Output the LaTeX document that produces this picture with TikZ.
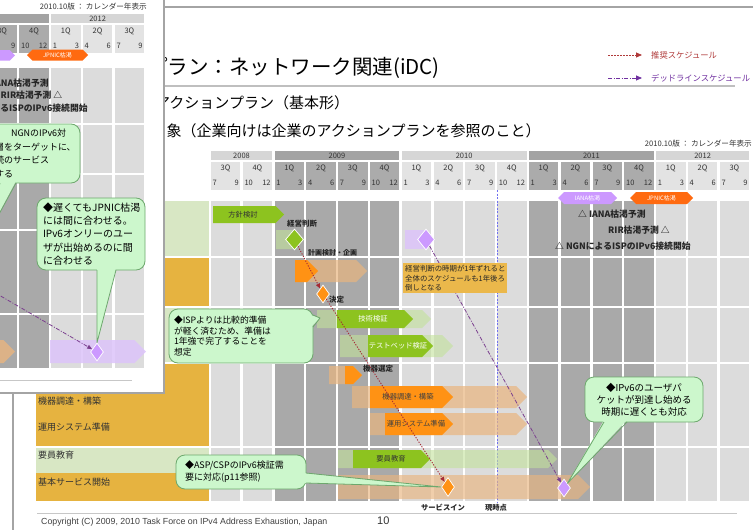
\documentclass[tikz,border=0pt]{standalone}
\usepackage{fontspec}
\setmainfont{Noto Sans CJK JP}
\newfontfamily\latsans{Liberation Sans}
\usetikzlibrary{arrows.meta,shapes.geometric,calc}

\definecolor{bodyD}{HTML}{A9A9A9}
\definecolor{bodyL}{HTML}{DCDCDC}
\definecolor{hqD}{HTML}{ABABAB}
\definecolor{hqL}{HTML}{E3E3E3}
\definecolor{hyD}{HTML}{A3A3A3}
\definecolor{hyL}{HTML}{D6D6D6}
\definecolor{goldc}{HTML}{E6B340}
\definecolor{lgreen}{HTML}{D8E7C4}
\definecolor{sgreen}{HTML}{8DC31F}
\definecolor{pgreen}{HTML}{C2E29A}
\definecolor{orng}{HTML}{FF9214}
\definecolor{ptan}{HTML}{E9B57F}
\definecolor{purp}{HTML}{CC99FF}
\definecolor{ppurp}{HTML}{DCC4FA}
\definecolor{jorng}{HTML}{FF6A10}
\definecolor{callfill}{HTML}{CCF7CC}
\definecolor{calldraw}{HTML}{6DA86D}
\definecolor{recred}{HTML}{A52A35}
\definecolor{dlpurp}{HTML}{7B3F8F}
\definecolor{nowblue}{HTML}{7070F0}
\definecolor{framec}{HTML}{A4A4A4}
\definecolor{txtc}{HTML}{333333}
\definecolor{notebox}{HTML}{EBB84B}
\definecolor{legred}{HTML}{B03A3A}
\definecolor{legpurp}{HTML}{7030A0}

\tikzset{
  hdrtxt/.style={font=\fontsize{7.5}{9}\selectfont, text=txtc, inner sep=0pt},
  smlbl/.style={font=\bfseries\fontsize{7.5}{9}\selectfont, text=black!85, inner sep=0pt},
  tri/.style={font=\bfseries\fontsize{8.8}{10}\selectfont, text=black!85, inner sep=0pt, anchor=west},
  rowlbl/.style={font=\fontsize{9}{11}\selectfont, text=black!80, anchor=west, inner sep=0pt},
  chevtxt/.style={font=\fontsize{7.3}{9}\selectfont, inner sep=0pt},
  hextxt/.style={font=\fontsize{6}{7}\selectfont, text=white, inner sep=0pt},
  callbox/.style={draw=calldraw, fill=callfill, rounded corners=9pt, line width=0.8pt, inner ysep=0pt, align=left},
  dmd/.style={diamond, draw=white, line width=0.7pt, inner sep=0pt},
  recarrow/.style={recred, line width=0.9pt, dash pattern=on 1.2pt off 1.5pt, -{Triangle[length=5pt,width=4pt]}},
  dlarrow/.style={dlpurp, line width=0.8pt, dash pattern=on 4pt off 1.5pt on 1pt off 1.5pt, -{Triangle[length=5pt,width=4pt]}}
}

% chevron: x1 x2 ytop ybot style
\newcommand\chev[5]{\fill[#5] (#1,#3) -- ({#2-(#4-#3)/2},#3) -- (#2,{(#3+#4)/2}) -- ({#2-(#4-#3)/2},#4) -- (#1,#4) -- cycle;}
% hexagon: x1 x2 ytop ybot style
\newcommand\hexa[5]{\fill[#5] (#1,{(#3+#4)/2}) -- ({#1+(#4-#3)/2},#3) -- ({#2-(#4-#3)/2},#3) -- (#2,{(#3+#4)/2}) -- ({#2-(#4-#3)/2},#4) -- ({#1+(#4-#3)/2},#4) -- cycle;}
% callout pointer: base1 base2 tip inward-offset
\newcommand\callptr[4]{\fill[callfill] ($(#1)+(#4)$) -- (#3) -- ($(#2)+(#4)$) -- cycle;
  \draw[calldraw, line width=0.8pt, line join=round] (#1) -- (#3) -- (#2);}

% header: #1 year list, #2 quarter-column list
\newcommand\charthead[2]{%
  \foreach \xa/\xb/\cc/\yr in {#1}{%
    \fill[\cc] (\xa,151) rectangle (\xb,160);
    \node[hdrtxt] (yr\yr) at ({(\xa+\xb)/2},155.7) {\yr};}
  \foreach \k/\cc/\q/\ma/\mb in {#2}{%
    \pgfmathsetmacro\xa{211+31.8*\k}
    \fill[\cc] (\xa,161.5) rectangle ({\xa+29.3},190);
    \node[hdrtxt] (q\k) at ({\xa+14.6},168) {\q};
    \node[hdrtxt, anchor=west] (ma\k) at ({\xa+1.5},182.5) {\ma};
    \node[hdrtxt, anchor=east] (mb\k) at ({\xa+28},182.5) {\mb};}
  \node[hdrtxt, anchor=east, font=\fontsize{7.6}{9}\selectfont] (edition) at (752,144) {2010.10版 ： カレンダー年表示};
}

% body: #1 column list
\newcommand\chartbody[1]{%
  \foreach \k/\cc in {#1}{%
    \pgfmathsetmacro\xa{211+31.8*\k}
    \foreach \ya/\yb in {200/257, 257/307, 307/363, 363/447, 447/502}{%
      \fill[\cc] (\xa,{\ya+1.2}) rectangle ({\xa+29.3},{\yb-1.2});}}
  \draw[black!22, line width=1pt] (37,513) -- (737,513);
}

\begin{document}
\begin{tikzpicture}[x=1pt,y=-1pt]
\useasboundingbox (0,0) rectangle (753,530);
\fill[white] (0,0) rectangle (753,530);

% main slide frame
\draw[framec, line width=1.8pt] (13,7) rectangle (780,550);

% titles
\node[anchor=west, inner sep=0pt, font=\fontsize{20.5}{24}\selectfont] (title) at (147,68) {プラン：ネットワーク関連(iDC)};
\draw[black!25, line width=1.2pt] (165,86) -- (735,86);
\node[anchor=west, inner sep=0pt, font=\fontsize{15}{18}\selectfont] (subtitle) at (155,103) {アクションプラン（基本形）};
\node[anchor=west, inner sep=0pt, font=\fontsize{15}{18}\selectfont] (target) at (166.5,131) {象（企業向けは企業のアクションプランを参照のこと）};

% legend
\coordinate (lg1s) at (608,55); \coordinate (lg1e) at (642,55);
\coordinate (lg2s) at (608,78); \coordinate (lg2e) at (642,78);
\draw[legred, line width=0.8pt, dash pattern=on 1.5pt off 1.5pt, -{Triangle[length=6pt,width=5pt]}] (lg1s) -- (lg1e);
\draw[legpurp, line width=0.8pt, dash pattern=on 4pt off 1.5pt on 1pt off 1.5pt, -{Triangle[length=6pt,width=5pt]}] (lg2s) -- (lg2e);
\node[anchor=west, inner sep=0pt, text=legred, font=\fontsize{8.3}{10}\selectfont] (lg1t) at (651,55) {推奨スケジュール};
\node[anchor=west, inner sep=0pt, text=legpurp, font=\fontsize{8.3}{10}\selectfont] (lg2t) at (651,78) {デッドラインスケジュール};

% chart
\charthead{211/272.1/hyL/2008, 274.6/399.3/hyD/2009, 401.8/526.5/hyL/2010, 529/653.7/hyD/2011, 656.2/749.1/hyL/2012}{0/hqL/3Q/7/9, 1/hqL/4Q/10/12, 2/hqD/1Q/1/3, 3/hqD/2Q/4/6, 4/hqD/3Q/7/9, 5/hqD/4Q/10/12, 6/hqL/1Q/1/3, 7/hqL/2Q/4/6, 8/hqL/3Q/7/9, 9/hqL/4Q/10/12, 10/hqD/1Q/1/3, 11/hqD/2Q/4/6, 12/hqD/3Q/7/9, 13/hqD/4Q/10/12, 14/hqL/1Q/1/3, 15/hqL/2Q/4/6, 16/hqL/3Q/7/9}
\chartbody{0/bodyL,1/bodyL,2/bodyD,3/bodyD,4/bodyD,5/bodyD,6/bodyL,7/bodyL,8/bodyL,9/bodyL,10/bodyD,11/bodyD,12/bodyD,13/bodyD,14/bodyL,15/bodyL,16/bodyL}
\node[tri] (ianap) at (578,214) {△ IANA枯渇予測};
\node[tri] (rirp) at (608,230) {RIR枯渇予測 △};
\node[tri] (ngnp) at (555,246) {△ NGNによるISPのIPv6接続開始};

% row label column
\fill[lgreen] (36,201.2) rectangle (209,255.8);
\fill[goldc] (36,258.2) rectangle (209,305.8);
\fill[lgreen] (36,308.2) rectangle (209,361.8);
\fill[goldc] (36,364.2) rectangle (209,445.8);
\fill[lgreen] (36,448.2) rectangle (209,472.5);
\fill[goldc] (36,472.5) rectangle (209,500.8);
\node[rowlbl] (rl1) at (38,401) {機器調達・構築};
\node[rowlbl] (rl2) at (38,427) {運用システム準備};
\node[rowlbl] (rl3) at (38,455) {要員教育};
\node[rowlbl] (rl4) at (38,482) {基本サービス開始};

% current time line
\coordinate (now1) at (497.2,190); \coordinate (now2) at (497.2,503);
\draw[nowblue, line width=1pt, dash pattern=on 2pt off 1.5pt] (now1) -- (now2);

% header milestones
\hexa{558}{617}{192}{204}{purp}
\node[hextxt] (iana) at (587.5,198) {IANA枯渇};
\hexa{630}{693}{192}{204}{jorng}
\node[hextxt] (jpnic) at (661.5,198) {JPNIC枯渇};

% row A
\chev{213}{284}{206}{223}{sgreen}
\node[chevtxt, text=black!80] (t1) at (243,214.5) {方針検討};
\node[smlbl, anchor=west] (l1) at (287,224) {経営判断};
\chev{276}{304}{230}{249}{pgreen, fill opacity=0.6}
\node[dmd, fill=sgreen, minimum width=18pt, minimum height=21pt] (gd) at (294.5,239.5) {};
\fill[ppurp, fill opacity=0.85] (405,229.5) rectangle (424,249);
\node[dmd, fill=purp, minimum width=17pt, minimum height=21pt] (pd1) at (426,239.5) {};

% row B
\node[smlbl, anchor=west, font=\bfseries\fontsize{7}{9}\selectfont] (l2) at (308,253) {計画検討・企画};
\chev{295}{367}{260}{282}{ptan, fill opacity=0.7}
\chev{295}{318}{260}{282}{orng}
\node[dmd, fill=orng, minimum width=13pt, minimum height=18pt] (od1) at (323,294) {};
\node[smlbl, anchor=west] (l3) at (329,300) {決定};

% row C
\chev{317}{431}{310}{328}{pgreen, fill opacity=0.6}
\chev{337}{413}{310}{328}{sgreen}
\node[chevtxt, text=white] (t2) at (373,319) {技術検証};
\chev{340}{453}{335}{357}{pgreen, fill opacity=0.6}
\chev{368}{433}{335}{357}{sgreen}
\node[chevtxt, text=white] (t3) at (398,346) {テストベッド検証};
\node[smlbl, anchor=west] (l4) at (363,368.5) {機器選定};

% row D
\chev{329}{362}{366}{384}{ptan, fill opacity=0.7}
\chev{345}{362}{366}{384}{orng}
\chev{352}{527}{386}{408}{ptan, fill opacity=0.7}
\chev{370}{453}{386}{408}{orng}
\node[chevtxt, text=black!75] (t4) at (408,397) {機器調達・構築};
\chev{370}{527}{413}{435}{ptan, fill opacity=0.7}
\chev{385}{453}{413}{435}{orng}
\node[chevtxt, text=black!75] (t5) at (416,424) {運用システム準備};

% row E
\chev{338}{557}{450}{468}{pgreen, fill opacity=0.6}
\chev{353}{430}{450}{468}{sgreen}
\node[chevtxt, text=black!80] (t6) at (391,459) {要員教育};
\chev{338}{590}{475}{499}{ptan, fill opacity=0.65}
\node[dmd, fill=orng, minimum width=13pt, minimum height=19pt] (od2) at (448,487) {};
\node[dmd, fill=purp, minimum width=13pt, minimum height=18pt] (pd2) at (564,488) {};

% schedules
\draw[dlarrow] (pd1) -- (pd2);
\draw[recarrow] (gd) -- (od1);
\draw[recarrow] (od1) -- (od2);

% note box
\node[fill=notebox, inner xsep=2pt, inner ysep=1.5pt, text width=100pt, align=left, minimum height=30pt, font=\fontsize{7.4}{9.5}\selectfont, text=black!85, anchor=north west] (note) at (403,263) {経営判断の時期が1年ずれると\\全体のスケジュールも1年後ろ\\倒しとなる};

% callouts
\node[callbox, inner xsep=5pt, text width=134pt, minimum width=144pt, minimum height=54pt, font=\fontsize{8.8}{10.8}\selectfont] (c1) at (241,336) {◆ISPよりは比較的準備\\が軽く済むため、準備は\\1年強で完了することを\\想定};
\coordinate (c1tip) at (320,318);
\callptr{313,315}{313,327}{c1tip}{-2,0}

\node[callbox, inner xsep=9pt, text width=112pt, minimum width=130pt, minimum height=34pt, font=\fontsize{9}{12}\selectfont] (c2) at (241,472) {◆ASP/CSPのIPv6検証需\\要に対応(p11参照)};
\callptr{306,473}{306,483}{od2.west}{-2,0}

\node[callbox, inner xsep=5pt, text width=108pt, minimum width=118pt, minimum height=45pt, align=center, font=\fontsize{9.5}{12}\selectfont] (c3) at (644,399.5) {◆IPv6のユーザパ\\ケットが到達し始める\\時期に遅くとも対応};
\callptr{604,422}{627,422}{pd2.north east}{0,-2}

% bottom labels and footer
\node[smlbl, font=\bfseries\fontsize{7.3}{9}\selectfont] (svcin) at (443,508) {サービスイン};
\node[smlbl, font=\bfseries\fontsize{7.3}{9}\selectfont] (nowlbl) at (496,508) {現時点};
\node[anchor=west, inner sep=0pt, text=black!75, font=\latsans\fontsize{8.8}{10}\selectfont] (copy) at (41,522) {Copyright (C) 2009, 2010 Task Force on IPv4 Address Exhaustion, Japan};
\node[anchor=west, inner sep=0pt, text=black!80, font=\latsans\fontsize{11}{12}\selectfont] (pageno) at (377,521) {10};

% ================= inset (enlarged view of another slide) =================
\begin{scope}
\clip (0,0) rectangle (164,393);
\fill[white] (0,0) rectangle (164,393);
\fill[hyD] (0,14) rectangle (48.7,23);
\begin{scope}[shift={(-605,-137)}]
  \charthead{656.2/749.1/hyL/2012}{12/hqD/3Q/{}/9, 13/hqD/4Q/10/12, 14/hqL/1Q/1/3, 15/hqL/2Q/4/6, 16/hqL/3Q/7/9}
\end{scope}
\begin{scope}[shift={(-605,-133)}]
  \chartbody{12/bodyD,13/bodyD,14/bodyL,15/bodyL,16/bodyL}
\end{scope}
\node[tri] (iianap) at (-19,83) {△ IANA枯渇予測};
\node[tri] (irirp) at (0.5,95.5) {RIR枯渇予測 △};
\node[tri] (ingnp) at (-48,108) {△ NGNによるISPのIPv6接続開始};
\hexa{-45}{15}{50}{60.5}{purp}
\hexa{27}{88}{49.5}{60.5}{jorng}
\node[hextxt] (ijpnic) at (57.5,55) {JPNIC枯渇};
\chev{-40}{15}{340}{363}{ptan, fill opacity=0.8}
\chev{50}{146}{340}{363}{ppurp, fill opacity=0.85}
\node[dmd, fill=purp, minimum width=13pt, minimum height=18pt] (ipd) at (97,352) {};
\coordinate (idl) at (-20,284);
\draw[dlarrow] (idl) -- (ipd);
\node[callbox, inner xsep=15pt, text width=70pt, minimum width=100pt, minimum height=59pt, font=\fontsize{9}{13.7}\selectfont] (ic1) at (30,153.5) {\hspace*{16pt}NGNのIPv6対\\層をターゲットに、\\続のサービス\\する};
\coordinate (ic1tip) at (-14,238);
\callptr{0,183}{16,183}{ic1tip}{0,-2}
\node[callbox, inner xsep=6pt, text width=96pt, minimum width=108pt, minimum height=72pt, font=\fontsize{10}{13.4}\selectfont] (ic2) at (91,234) {◆遅くてもJPNIC枯渇\\には間に合わせる。\\IPv6オンリーのユー\\ザが出始めるのに間\\に合わせる};
\callptr{97,270}{116,270}{ipd.north}{0,-2}
\end{scope}
\draw[framec, line width=2pt] (-5,-5) rectangle (164,393);
\end{tikzpicture}
\end{document}
